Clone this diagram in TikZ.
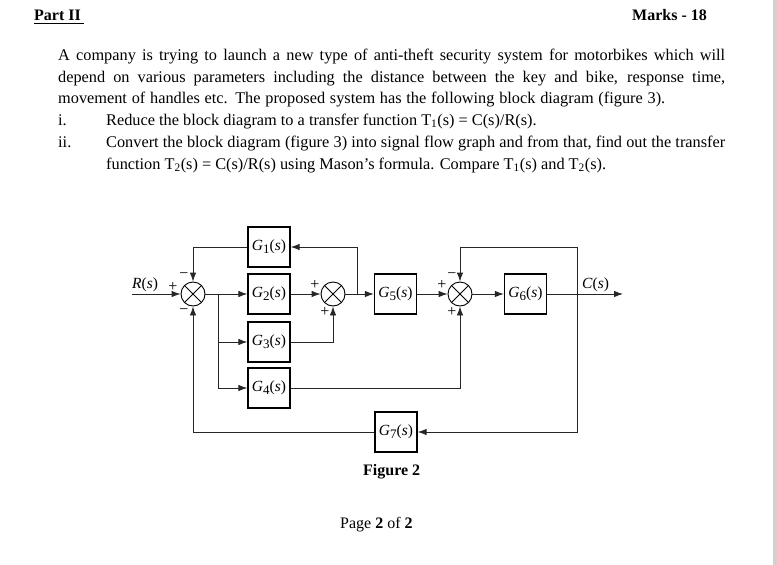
\documentclass[tikz,border=0pt]{standalone}
\usepackage{fontspec}
\setmainfont{Liberation Serif}
\usetikzlibrary{arrows.meta}
\newcommand\GofS[1]{\textit{G}\raisebox{-0.35ex}{\fontsize{13}{13}\selectfont #1}(\textit{s})}
\newcommand\bodyfont{\fontsize{16.3}{18}\selectfont}
\begin{document}
\begin{tikzpicture}[x=1pt,y=-1pt,
  txt/.style={anchor=base west, inner sep=0pt, font=\bodyfont},
  blk/.style={draw, line width=1.3pt, minimum width=42pt, minimum height=40pt, inner sep=0pt, font=\fontsize{15.5}{15.5}\selectfont},
  sumj/.style={circle, draw, line width=0.9pt, minimum size=24pt, inner sep=0pt,
    path picture={\draw[line width=0.9pt] (path picture bounding box.north west) -- (path picture bounding box.south east)
      (path picture bounding box.north east) -- (path picture bounding box.south west);}},
  wire/.style={line width=0.9pt, draw=black!85},
  arr/.style={wire, -{Latex[length=9pt,width=6.5pt]}},
  sgn/.style={inner sep=0pt, font=\fontsize{16}{16}\selectfont},
  lbl/.style={anchor=base west, inner sep=0pt, font=\fontsize{15.5}{15.5}\selectfont}]
\useasboundingbox (0,0) rectangle (777,565);
\fill[white] (0,0) rectangle (777,565);
\fill[black!18] (773,0) rectangle (777,565);
% header
\node[txt, font=\fontsize{16}{16}\selectfont\bfseries] (part) at (34,20) {Part II};
\draw[line width=1.1pt] (34,23.5) -- (84,23.5);
\node[txt, font=\fontsize{16}{16}\selectfont\bfseries] (marks) at (632,20) {Marks - 18};
% body
\node[txt] (l1) at (58,60) {\makebox[667pt][s]{A company is trying to launch a new type of anti-theft security system for motorbikes which will}};
\node[txt] (l2) at (58,82) {\makebox[667pt][s]{depend on various parameters including the distance between the key and bike, response time,}};
\node[txt] (l3) at (58,103) {\makebox[607pt][s]{movement of handles etc. The proposed system has the following block diagram (figure 3).}};
\node[txt] (i1) at (58,125) {i.};
\node[txt] (l4) at (106,125) {Reduce the block diagram to a transfer function T\textsubscript{1}(s) = C(s)/R(s).};
\node[txt] (i2) at (58,147) {ii.};
\node[txt] (l5) at (106,147) {\makebox[619pt][s]{Convert the block diagram (figure 3) into signal flow graph and from that, find out the transfer}};
\node[txt] (l6) at (106,169) {function T\textsubscript{2}(s) = C(s)/R(s) using Mason’s formula. Compare T\textsubscript{1}(s) and T\textsubscript{2}(s).};
% diagram
\coordinate (rin) at (132,294);
\node[sumj] (s1) at (193,294) {};
\node[sumj] (s2) at (333,294) {};
\node[sumj] (s3) at (460,294) {};
\node[blk] (g1) at (269,247) {\GofS{1}};
\node[blk] (g2) at (269,294) {\GofS{2}};
\node[blk] (g3) at (269,342) {\GofS{3}};
\node[blk] (g4) at (269,388) {\GofS{4}};
\node[blk] (g5) at (395.5,294) {\GofS{5}};
\node[blk] (g6) at (525.5,294) {\GofS{6}};
\node[blk] (g7) at (396,432) {\GofS{7}};
\coordinate (b1) at (218,294);
\coordinate (b2) at (357,294);
\coordinate (b3) at (577,294);
\coordinate (t3) at (577,247);
\coordinate (out) at (623,294);
\draw[arr] (rin) -- (s1.west);
\draw[arr] (s1.east) -- (g2.west);
\draw[arr] (b1) |- (g3.west);
\draw[arr] (b1) |- (g4.west);
\draw[arr] (g2.east) -- (s2.west);
\draw[arr] (g3.east) -| (s2.south);
\draw[arr] (s2.east) -- (g5.west);
\draw[arr] (b2) |- (g1.east);
\draw[arr] (g1.west) -| (s1.north);
\draw[arr] (g5.east) -- (s3.west);
\draw[arr] (g4.east) -| (s3.south);
\draw[arr] (s3.east) -- (g6.west);
\draw[arr] (g6.east) -- (out);
\draw[arr] (b3) -- (t3) -| (s3.north);
\draw[arr] (b3) |- (g7.east);
\draw[arr] (g7.west) -| (s1.south);
% labels
\node[lbl] (rl) at (132,288) {\textit{R}(\textit{s})};
\node[lbl] (cl) at (582,288) {\textit{C}(\textit{s})};
\node[sgn] (p1) at (173,287) {+};
\node[sgn] (m1a) at (184,276) {−};
\node[sgn] (m1b) at (184,312) {−};
\node[sgn] (p2a) at (315,285) {+};
\node[sgn] (p2b) at (325,312) {+};
\node[sgn] (p3a) at (442,285) {+};
\node[sgn] (m3) at (452,276) {−};
\node[sgn] (p3b) at (452,312) {+};
% captions
\node[txt, font=\fontsize{16}{16}\selectfont\bfseries] (fig) at (363,475) {Figure 2};
\node[txt, font=\fontsize{16}{16}\selectfont] (page) at (340,528) {Page \textbf{2} of \textbf{2}};
\end{tikzpicture}
\end{document}
